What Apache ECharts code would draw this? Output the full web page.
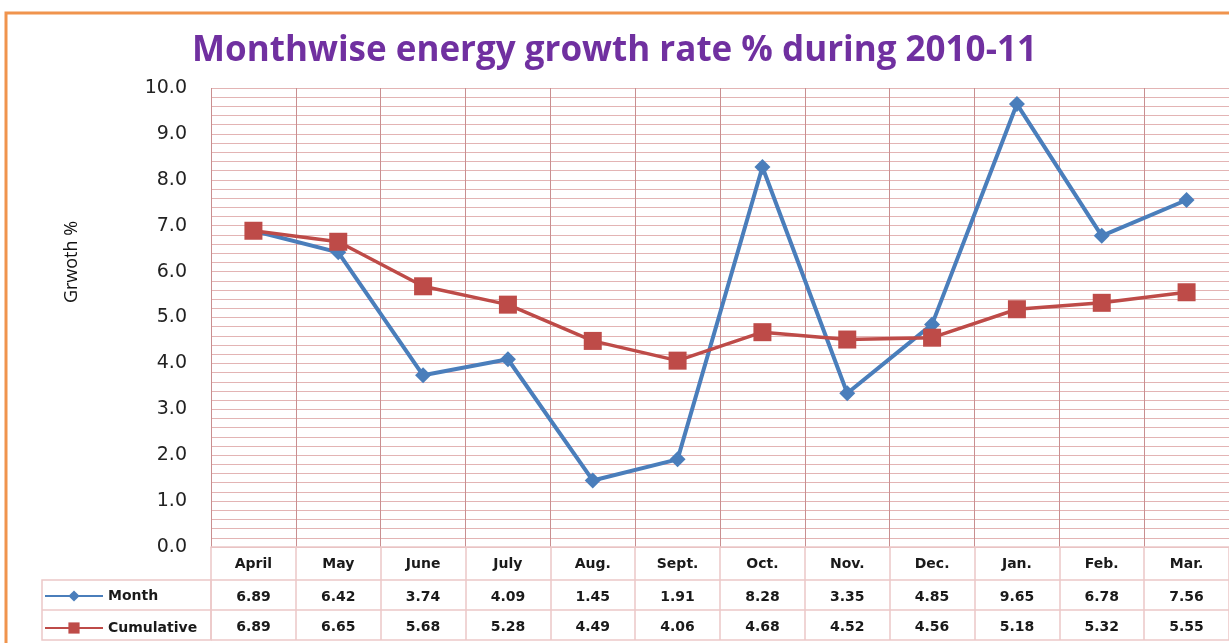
<!DOCTYPE html>
<html>
<head>
<meta charset="utf-8">
<script src="https://cdn.jsdelivr.net/npm/echarts@6/dist/echarts.min.js"></script>
<style>
  html, body { margin: 0; padding: 0; background: #fff; }
  #chart { width: 1229px; height: 643px; }
</style>
</head>
<body>
<div id="chart"></div>
<script>
// data
var months = ['April', 'May', 'June', 'July', 'Aug.', 'Sept.', 'Oct.', 'Nov.', 'Dec.', 'Jan.', 'Feb.', 'Mar.'];
var monthGrowth = [6.89, 6.42, 3.74, 4.09, 1.45, 1.91, 8.28, 3.35, 4.85, 9.65, 6.78, 7.56];
var cumulativeGrowth = [6.89, 6.65, 5.68, 5.28, 4.49, 4.06, 4.68, 4.52, 4.56, 5.18, 5.32, 5.55];
var yTicks = [0, 1, 2, 3, 4, 5, 6, 7, 8, 9, 10];

window.onload = function () {
    var myChart = echarts.init(document.getElementById('chart'));

    var gridColor = '#e3b4b4';
    var vColor = '#c98f90';
    var tableColor = '#ecc8c8';
    var cellText = { fontFamily: 'DejaVu Sans', fontWeight: 'bold', fontSize: 14, color: '#1a1a1a' };

    // 数据表格的行（用额外的类目轴来对齐）
    function tableAxis(values, offset, margin) {
        return {
            type: 'category',
            gridIndex: 0,
            position: 'bottom',
            offset: offset,
            data: values.map(function (v) { return v.toFixed(2); }),
            axisLine: { show: true, lineStyle: { color: tableColor, width: 1.5 } },
            axisTick: { show: false },
            splitLine: { show: false },
            axisLabel: Object.assign({ interval: 0, margin: margin }, cellText)
        };
    }

    option = {
        backgroundColor: '#fff',
        animation: false,
        title: {
            text: 'Monthwise energy growth rate % during 2010-11',
            left: 'center',
            top: 29,
            textStyle: {
                fontFamily: 'Open Sans',
                fontWeight: 'bold',
                fontSize: 35,
                color: '#7030a0'
            }
        },
        legend: {
            data: ['Month', 'Cumulative'],
            orient: 'vertical',
            left: 44,
            top: 588,
            padding: 0,
            itemWidth: 58,
            itemHeight: 14,
            itemGap: 16,
            textStyle: Object.assign({ lineHeight: 16 }, cellText)
        },
        grid: {
            left: 211,
            top: 88,
            width: 1025,
            bottom: 96,
            containLabel: false
        },
        xAxis: [
            {
                type: 'category',
                data: months,
                boundaryGap: true,
                axisLine: { show: true, lineStyle: { color: tableColor, width: 1.5 } },
                axisTick: { show: true, interval: 0, length: 93, lineStyle: { color: tableColor, width: 1.5 } },
                splitLine: { show: true, interval: 0, lineStyle: { color: vColor, width: 1 } },
                axisLabel: Object.assign({ interval: 0, margin: 10 }, cellText)
            },
            tableAxis(monthGrowth, 33, 10),
            tableAxis(cumulativeGrowth, 63, 10)
        ],
        yAxis: {
            type: 'value',
            min: yTicks[0],
            max: yTicks[yTicks.length - 1],
            interval: 1,
            axisLine: { show: false },
            axisTick: { show: false },
            axisLabel: {
                margin: 24,
                fontFamily: 'DejaVu Sans',
                fontSize: 19,
                color: '#222',
                formatter: function (v) { return v.toFixed(1); }
            },
            splitLine: { show: true, lineStyle: { color: gridColor, width: 1 } },
            minorTick: { show: false, splitNumber: 5 },
            minorSplitLine: { show: true, lineStyle: { color: gridColor, width: 1 } }
        },
        series: [
            {
                name: 'Month',
                type: 'line',
                data: monthGrowth,
                symbol: 'diamond',
                symbolSize: 16,
                lineStyle: { color: '#4a7ebb', width: 4 },
                itemStyle: { color: '#4a7ebb' }
            },
            {
                name: 'Cumulative',
                type: 'line',
                data: cumulativeGrowth,
                symbol: 'rect',
                symbolSize: 18,
                lineStyle: { color: '#be4b48', width: 3.5 },
                itemStyle: { color: '#be4b48' }
            }
        ],
        graphic: [
            // 外框
            {
                type: 'rect',
                shape: { x: 6, y: 13, width: 1260, height: 700 },
                style: { fill: null, stroke: '#f0944d', lineWidth: 3 },
                silent: true
            },
            // y轴标题
            {
                type: 'text',
                x: 72,
                y: 262,
                rotation: Math.PI / 2,
                style: {
                    text: 'Grwoth %',
                    fontFamily: 'Open Sans',
                    fontSize: 18,
                    fill: '#111',
                    align: 'center',
                    verticalAlign: 'middle'
                },
                silent: true
            },
            // 图例单元格
            {
                type: 'rect',
                shape: { x: 42, y: 580, width: 169, height: 60 },
                style: { fill: null, stroke: tableColor, lineWidth: 1.5 },
                silent: true
            },
            {
                type: 'line',
                shape: { x1: 42, y1: 610, x2: 211, y2: 610 },
                style: { stroke: tableColor, lineWidth: 1.5 },
                silent: true
            },
            {
                type: 'line',
                shape: { x1: 211, y1: 640, x2: 1240, y2: 640 },
                style: { stroke: tableColor, lineWidth: 1.5 },
                silent: true
            }
        ]
    };

    myChart.setOption(option);
};
</script>
</body>
</html>
